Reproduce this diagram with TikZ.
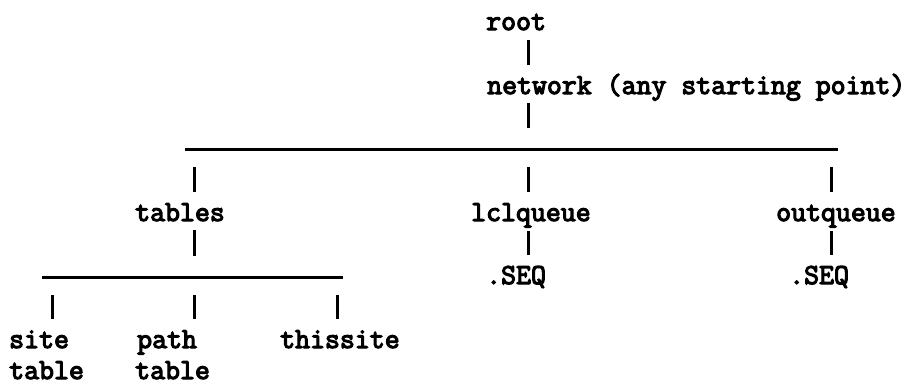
\documentclass[tikz,border=0pt]{standalone}
\usepackage{fontspec}
\newfontfamily\typew{Latin Modern Mono}[FakeBold=4]
\begin{document}
\begin{tikzpicture}[x=1pt,y=-1pt,
  lbl/.style={font=\typew\fontsize{29}{35}\selectfont,
    anchor=base west, inner sep=0pt, text height=20pt, text depth=3pt},
  rule/.style={line width=3pt},
  barline/.style={line width=3pt},
  midbar/.style={barline, shorten <=7pt, shorten >=9pt},
  upbar/.style={barline, shorten <=6pt, shorten >=21pt},
  downbar/.style={barline, shorten <=18pt, shorten >=9pt}]
\useasboundingbox (0,0) rectangle (917,384);

% labels, one typewriter line every ~32pt
\node[lbl] (root)    at (486,30)  {root};
\node[lbl] (network) at (487,94)  {network (any starting point)};
\node[lbl] (tables)  at (135,221) {tables};
\node[lbl] (lcl)     at (471,221) {lclqueue};
\node[lbl] (out)     at (776,221) {outqueue};
\node[lbl] (lseq)    at (486,284) {.SEQ};
\node[lbl] (oseq)    at (789,284) {.SEQ};
\node[lbl] (site)    at (9,348)   {site};
\node[lbl] (sitet)   at (9,379)   {table};
\node[lbl] (path)    at (137,348) {path};
\node[lbl] (patht)   at (135,379) {table};
\node[lbl] (this)    at (280,348) {thissite};

% horizontal branch rules and their junctions
\coordinate (r1w) at (185,149);
\coordinate (r1e) at (838,149);
\coordinate (j1a) at (194,149);
\coordinate (j1b) at (528,149);
\coordinate (j1c) at (831,149);
\coordinate (r2w) at (42,277);
\coordinate (r2e) at (343,277);
\coordinate (j2a) at (52,277);
\coordinate (j2b) at (194,277);
\coordinate (j2c) at (337,277);
\draw[rule] (r1w) -- (r1e);
\draw[rule] (r2w) -- (r2e);

% vertical connectors
\draw[midbar]  (root.south -| j1b) -- (network.north -| j1b);
\draw[upbar]   (network.south -| j1b) -- (j1b);
\draw[downbar] (j1a) -- (j1a |- tables.north);
\draw[downbar] (j1b) -- (j1b |- lcl.north);
\draw[downbar] (j1c) -- (j1c |- out.north);
\draw[upbar]   (tables.south -| j2b) -- (j2b);
\draw[midbar]  (lcl.south -| j1b) -- (lseq.north -| j1b);
\draw[midbar]  (out.south -| j1c) -- (oseq.north -| j1c);
\draw[downbar] (j2a) -- (j2a |- site.north);
\draw[downbar] (j2b) -- (j2b |- path.north);
\draw[downbar] (j2c) -- (j2c |- this.north);
\end{tikzpicture}
\end{document}
